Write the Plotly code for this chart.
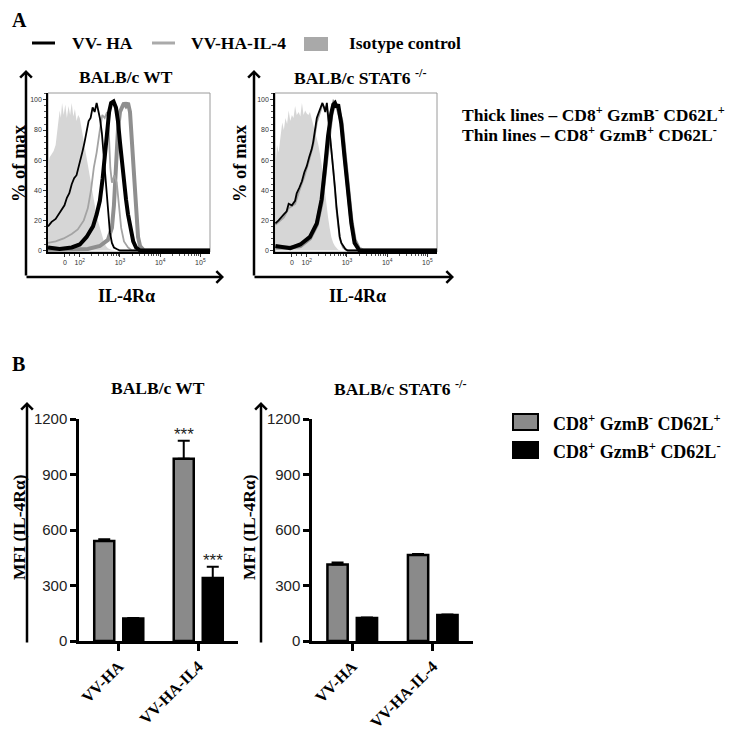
import plotly.graph_objects as go

W, H = 737, 735
OFF = 8                      # page body margin: the figure div starts 8px in from the window corner
FW, FH = W - OFF, H - OFF    # figure size that exactly fills the window
SERIF = "Liberation Serif, Times New Roman, serif"
SANS = "Liberation Sans, Arial, sans-serif"

# ---------------- Panel A: IL-4Ra histograms ----------------
# x in logicle display units (k -> 10^k, 1.63 -> 0), y = % of max
hist_tick_vals = [1.63, 2, 3, 4, 5]
hist_tick_text = ["0", "10<sup>2</sup>", "10<sup>3</sup>", "10<sup>4</sup>", "10<sup>5</sup>"]
hist_y_ticks = [0, 20, 40, 60, 80, 100]
hist_minor = [1.75, 1.88] + [k + m for k in (2, 3, 4) for m in (0.301, 0.477, 0.602, 0.699, 0.778, 0.845, 0.903, 0.954)]

# BALB/c WT
wt_iso_x = [1.21, 1.25, 1.3, 1.35, 1.4, 1.45, 1.5, 1.53, 1.56, 1.6, 1.64, 1.68, 1.72, 1.76, 1.8, 1.84, 1.88, 1.92,
            1.96, 2.0, 2.05, 2.1, 2.15, 2.2, 2.25, 2.3, 2.35, 2.4, 2.45, 2.5, 2.55, 2.6, 2.65, 2.7, 2.8, 2.9, 5.24]
wt_iso_y = [55, 62, 64, 66, 70, 82, 93, 88, 98, 90, 97, 88, 96, 90, 98, 89, 94, 86,
            90, 88, 80, 72, 64, 55, 48, 40, 33, 26, 20, 15, 10, 6, 3, 1.5, 0.3, 0, 0]

wt_ha_thin_x = [1.21, 1.3, 1.4, 1.48, 1.55, 1.62, 1.68, 1.74, 1.8, 1.86, 1.92, 1.97, 2.02, 2.07, 2.12, 2.17, 2.22,
                2.27, 2.32, 2.37, 2.42, 2.46, 2.5, 2.55, 2.6, 2.65, 2.7, 2.75, 2.8, 2.85, 2.92, 3.0, 5.24]
wt_ha_thin_y = [16, 19, 21, 24, 27, 30, 35, 38, 44, 48, 50, 55, 60, 66, 72, 80, 86,
                88, 95, 92, 98, 93, 88, 78, 60, 42, 25, 12, 5, 2, 1, 0, 0]

wt_ha_thick_x = [1.21, 1.5, 1.8, 2.0, 2.17, 2.33, 2.42, 2.5, 2.57, 2.62, 2.68, 2.73, 2.78, 2.84, 2.9, 2.95, 3.0,
                 3.05, 3.1, 3.15, 3.2, 3.27, 3.33, 3.4, 3.5, 5.24]
wt_ha_thick_y = [2, 1, 2, 4, 9, 16, 24, 33, 48, 62, 80, 92, 98, 99, 95, 86, 72,
                 58, 44, 34, 24, 14, 6, 2, 0, 0]

wt_il4_thin_x = [1.21, 1.4, 1.6, 1.8, 1.95, 2.1, 2.2, 2.28, 2.35, 2.42, 2.5, 2.56, 2.62, 2.68, 2.72, 2.76, 2.8,
                 2.86, 2.92, 2.97, 3.03, 3.1, 3.2, 3.3, 5.24]
wt_il4_thin_y = [5, 6, 8, 11, 14, 20, 28, 40, 55, 65, 80, 90, 88, 92, 80, 55, 45,
                 50, 45, 30, 15, 6, 2, 0, 0]

wt_il4_thick_x = [1.21, 1.8, 2.2, 2.5, 2.7, 2.8, 2.85, 2.9, 2.95, 3.0, 3.05, 3.1, 3.15, 3.2, 3.25, 3.3, 3.35,
                  3.4, 3.45, 3.5, 3.6, 5.24]
wt_il4_thick_y = [0.5, 0.5, 1, 3, 7, 15, 30, 55, 80, 92, 95, 98, 96, 98, 92, 70, 45,
                  22, 9, 3, 0, 0]

# BALB/c STAT6 -/-
st_iso_x = [1.22, 1.26, 1.3, 1.35, 1.39, 1.43, 1.47, 1.51, 1.55, 1.59, 1.63, 1.67, 1.71, 1.75, 1.8, 1.84, 1.88,
            1.92, 1.96, 2.0, 2.04, 2.08, 2.12, 2.16, 2.2, 2.25, 2.29, 2.33, 2.37, 2.41, 2.45, 2.49, 2.53, 2.57,
            2.61, 2.66, 2.7, 2.78, 2.86, 5.24]
st_iso_y = [55, 70, 65, 78, 85, 80, 88, 84, 93, 86, 90, 88, 96, 90, 92, 89, 98,
            90, 93, 91, 90, 92, 88, 84, 80, 74, 70, 64, 58, 50, 40, 30, 22, 15,
            9, 5, 3, 0.5, 0, 0]

st_ha_thin_x = [1.22, 1.3, 1.43, 1.5, 1.55, 1.63, 1.71, 1.75, 1.82, 1.88, 1.94, 2.0, 2.06, 2.12, 2.16, 2.2, 2.25,
                2.29, 2.34, 2.39, 2.43, 2.46, 2.5, 2.53, 2.57, 2.62, 2.66, 2.7, 2.74, 2.78, 2.82, 2.86, 2.9,
                2.96, 3.02, 5.24]
st_ha_thin_y = [18, 20, 24, 26, 31, 30, 33, 38, 42, 46, 52, 56, 62, 67, 72, 78, 88,
                91, 94, 98, 95, 92, 98, 90, 80, 68, 56, 42, 29, 18, 9, 5, 3,
                1, 0, 0]

st_il4_thin_x = [1.22, 1.43, 1.55, 1.71, 1.82, 1.94, 2.06, 2.16, 2.25, 2.34, 2.39, 2.46, 2.5, 2.57, 2.66, 2.74,
                 2.82, 2.9, 3.0, 5.24]
st_il4_thin_y = [17, 22, 28, 31, 40, 49, 60, 70, 85, 93, 97, 94, 96, 78, 54, 27,
                 8, 2, 0, 0]

st_ha_thick_x = [1.22, 1.4, 1.59, 1.84, 2.08, 2.25, 2.37, 2.45, 2.53, 2.61, 2.66, 2.7, 2.74, 2.78, 2.86, 2.94,
                 3.02, 3.11, 3.19, 3.31, 5.24]
st_ha_thick_y = [3, 2, 1.5, 4, 9, 18, 34, 54, 76, 91, 97, 98, 95, 97, 84, 62,
                 38, 18, 5, 0, 0]

st_il4_thick_x = [1.22, 1.6, 1.84, 2.08, 2.25, 2.37, 2.45, 2.53, 2.61, 2.68, 2.76, 2.86, 2.94, 3.02, 3.11, 3.19,
                  3.3, 3.4, 5.24]
st_il4_thick_y = [2, 2, 3, 8, 17, 32, 52, 74, 90, 98, 96, 86, 65, 42, 20, 7,
                  1, 0, 0]

# ---------------- Panel B: MFI bars ----------------
wt_cats = ["VV-HA", "VV-HA-IL4"]
st_cats = ["VV-HA", "VV-HA-IL-4"]
wt_cd62l = [540, 985]
wt_cd62l_err = [10, 97]
wt_gzmb = [122, 340]
wt_gzmb_err = [3, 62]
st_cd62l = [414, 465]
st_cd62l_err = [11, 5]
st_gzmb = [124, 140]
st_gzmb_err = [3, 3]
wt_cd62l_sig = ["", "***"]
wt_gzmb_sig = ["", "***"]
bar_y_ticks = [0, 300, 600, 900, 1200]

GRAY_BAR = "#8a8a8a"
ISO = "#d6d6d6"
IL4_THIN = "#a3a3a3"
IL4_THICK = "#8f8f8f"


def px(x):
    return (x - OFF) / FW


def py(y):
    return 1 - (y - OFF) / FH


fig = go.Figure()

hist_sets = [
    ("x", "y", wt_iso_x, wt_iso_y, wt_il4_thick_x, wt_il4_thick_y, wt_il4_thin_x, wt_il4_thin_y,
     wt_ha_thick_x, wt_ha_thick_y, wt_ha_thin_x, wt_ha_thin_y),
    ("x2", "y2", st_iso_x, st_iso_y, st_il4_thick_x, st_il4_thick_y, st_il4_thin_x, st_il4_thin_y,
     st_ha_thick_x, st_ha_thick_y, st_ha_thin_x, st_ha_thin_y),
]
for (xa, ya, ix, iy, gkx, gky, gnx, gny, bkx, bky, bnx, bny) in hist_sets:
    fig.add_trace(go.Scatter(x=ix, y=iy, xaxis=xa, yaxis=ya, mode="lines", fill="tozeroy",
                             fillcolor=ISO, line=dict(width=0, color=ISO), showlegend=False))
    fig.add_trace(go.Scatter(x=gkx, y=gky, xaxis=xa, yaxis=ya, mode="lines",
                             line=dict(width=4, color=IL4_THICK), showlegend=False))
    fig.add_trace(go.Scatter(x=gnx, y=gny, xaxis=xa, yaxis=ya, mode="lines",
                             line=dict(width=1.8, color=IL4_THIN), showlegend=False))
    fig.add_trace(go.Scatter(x=bkx, y=bky, xaxis=xa, yaxis=ya, mode="lines",
                             line=dict(width=4, color="black"), showlegend=False))
    fig.add_trace(go.Scatter(x=bnx, y=bny, xaxis=xa, yaxis=ya, mode="lines",
                             line=dict(width=1.8, color="black"), showlegend=False))

bar_sets = [
    ("x3", "y3", wt_cats, wt_cd62l, wt_cd62l_err, wt_gzmb, wt_gzmb_err),
    ("x4", "y4", st_cats, st_cd62l, st_cd62l_err, st_gzmb, st_gzmb_err),
]
for (xa, ya, cats, g, ge, b, be) in bar_sets:
    fig.add_trace(go.Bar(x=cats, y=g, xaxis=xa, yaxis=ya, marker=dict(color=GRAY_BAR, line=dict(color="black", width=2.5)),
                         error_y=dict(type="data", array=ge, arrayminus=[0] * len(ge), symmetric=False,
                                      color="black", thickness=2, width=6),
                         showlegend=False))
    fig.add_trace(go.Bar(x=cats, y=b, xaxis=xa, yaxis=ya, marker=dict(color="black", line=dict(color="black", width=2.5)),
                         error_y=dict(type="data", array=be, arrayminus=[0] * len(be), symmetric=False,
                                      color="black", thickness=2, width=6),
                         showlegend=False))

hist_xaxis = dict(range=[1.21, 5.24], showline=True, linecolor="black", linewidth=1.5, ticks="outside",
                  ticklen=3, tickcolor="#333", tickvals=hist_tick_vals, ticktext=hist_tick_text,
                  tickfont=dict(family=SANS, size=7, color="#333"), showgrid=False, zeroline=False,
                  automargin=False,
                  minor=dict(tickvals=hist_minor, ticks="outside", ticklen=2, tickcolor="#555"))
hist_yaxis = dict(range=[-1, 104.6], domain=[py(252), py(93)], showline=True, linecolor="black", linewidth=1.5,
                  ticks="outside", ticklen=3, tickcolor="#333", tickvals=hist_y_ticks,
                  tickfont=dict(family=SANS, size=7, color="#333"), showgrid=False, zeroline=False,
                  automargin=False,
                  minor=dict(dtick=4, ticks="outside", ticklen=2, tickcolor="#555"))
bar_xaxis = dict(type="category", range=[-0.5, 1.5], showline=True, linecolor="black", linewidth=2.5,
                 ticks="outside", ticklen=7, tickwidth=2.5, tickcolor="black", tickangle=-45,
                 tickfont=dict(family=SERIF, size=16, color="black", weight="bold"), showgrid=False,
                 zeroline=False, automargin=False)
bar_yaxis = dict(range=[0, 1200], domain=[py(641), py(419)], showline=True, linecolor="black", linewidth=2.5,
                 ticks="outside", ticklen=6, tickwidth=2.5, tickcolor="black", tickvals=bar_y_ticks,
                 tickfont=dict(family=SANS, size=15, color="#222"), showgrid=False, zeroline=False,
                 automargin=False)

fig.update_layout(
    width=FW, height=FH, margin=dict(l=0, r=0, t=0, b=0, pad=0, autoexpand=False),
    paper_bgcolor="white", plot_bgcolor="white",
    barmode="group", bargap=0.27, bargroupgap=0.31, showlegend=False,
    xaxis=dict(hist_xaxis, domain=[px(48), px(210)], anchor="y"),
    yaxis=dict(hist_yaxis, anchor="x"),
    xaxis2=dict(hist_xaxis, domain=[px(275), px(437)], anchor="y2"),
    yaxis2=dict(hist_yaxis, anchor="x2"),
    xaxis3=dict(bar_xaxis, domain=[px(79), px(238)], anchor="y3"),
    yaxis3=dict(bar_yaxis, anchor="x3"),
    xaxis4=dict(bar_xaxis, domain=[px(312), px(473)], anchor="y4"),
    yaxis4=dict(bar_yaxis, anchor="x4"),
)

shapes = []
# histogram frames (light top/right border)
for xr, yr in (("x domain", "y domain"), ("x2 domain", "y2 domain")):
    shapes.append(dict(type="rect", xref=xr, yref=yr, x0=0, x1=1, y0=0, y1=1,
                       line=dict(color="#9a9a9a", width=1), layer="below"))
# legend A
shapes.append(dict(type="line", xref="paper", yref="paper", x0=px(32), x1=px(55), y0=py(43), y1=py(43),
                   line=dict(color="black", width=3)))
shapes.append(dict(type="line", xref="paper", yref="paper", x0=px(152), x1=px(175), y0=py(43), y1=py(43),
                   line=dict(color="#aaaaaa", width=3)))
shapes.append(dict(type="rect", xref="paper", yref="paper", x0=px(304), x1=px(328), y0=py(51), y1=py(37),
                   fillcolor="#a9a9a9", line=dict(width=0)))
# legend B
shapes.append(dict(type="rect", xref="paper", yref="paper", x0=px(513), x1=px(538), y0=py(430), y1=py(414),
                   fillcolor=GRAY_BAR, line=dict(color="black", width=2)))
shapes.append(dict(type="rect", xref="paper", yref="paper", x0=px(513), x1=px(538), y0=py(458), y1=py(442),
                   fillcolor="black", line=dict(color="black", width=2)))
fig.update_layout(shapes=shapes)

anns = []


def txt(text, x, y, size, xanchor="center", angle=0, family=SERIF, bold=True, color="black"):
    anns.append(dict(text=("<b>%s</b>" % text) if bold else text, x=px(x), y=py(y), xref="paper", yref="paper",
                     xanchor=xanchor, yanchor="middle", showarrow=False, textangle=angle,
                     font=dict(family=family, size=size, color=color)))


def arrow(xt, yt, xs, ys):
    anns.append(dict(text="", x=px(xt), y=py(yt), xref="paper", yref="paper", ax=xs - xt, ay=ys - yt,
                     axref="pixel", ayref="pixel", showarrow=True, arrowhead=4, arrowsize=0.9,
                     arrowwidth=2.5, arrowcolor="black"))


txt("A", 10, 20, 20, xanchor="left")
txt("VV- HA", 70, 43, 17.5, xanchor="left")
txt("VV-HA-IL-4", 189, 43, 17.5, xanchor="left")
txt("Isotype control", 347, 43, 17.5, xanchor="left")
txt("BALB/c WT", 126, 77, 17.5)
txt("BALB/c STAT6 <sup>-/-</sup>", 360, 77, 17.5)
txt("% of max", 19, 163, 18.5, angle=-90)
txt("% of max", 240, 163, 18.5, angle=-90)
txt("IL-4Rα", 127, 296, 18)
txt("IL-4Rα", 357, 296, 18)
txt("Thick lines – CD8<sup>+</sup> GzmB<sup>-</sup> CD62L<sup>+</sup>", 460, 114, 17.5, xanchor="left")
txt("Thin lines – CD8<sup>+</sup> GzmB<sup>+</sup> CD62L<sup>-</sup>", 460, 134, 17.5, xanchor="left")
txt("B", 10, 364, 20, xanchor="left")
txt("BALB/c WT", 158, 388, 17.5)
txt("BALB/c STAT6 <sup>-/-</sup>", 400, 388, 17.5)
txt("MFI (IL-4Rα)", 19, 527, 17.5, angle=-90)
txt("MFI (IL-4Rα)", 249, 527, 17.5, angle=-90)
txt("CD8<sup>+</sup> GzmB<sup>-</sup> CD62L<sup>+</sup>", 551, 422, 18, xanchor="left")
txt("CD8<sup>+</sup> GzmB<sup>+</sup> CD62L<sup>-</sup>", 551, 450, 18, xanchor="left")

# outer axis arrows
arrow(26, 70, 26, 277)
arrow(224, 277, 25, 277)
arrow(254, 70, 254, 277)
arrow(454, 277, 253, 277)
arrow(27, 402, 27, 644)
arrow(261, 402, 261, 644)

# significance stars
for vals, errs, sig, shift in ((wt_cd62l, wt_cd62l_err, wt_cd62l_sig, -14.5), (wt_gzmb, wt_gzmb_err, wt_gzmb_sig, 14.5)):
    for c, v, e, s in zip(wt_cats, vals, errs, sig):
        if s:
            anns.append(dict(text=s, x=c, y=v + e, xref="x3", yref="y3", xshift=shift, yshift=6,
                             yanchor="middle", showarrow=False, font=dict(family=SANS, size=17, color="#222")))

fig.update_layout(annotations=anns)
fig.write_html("out.html")
